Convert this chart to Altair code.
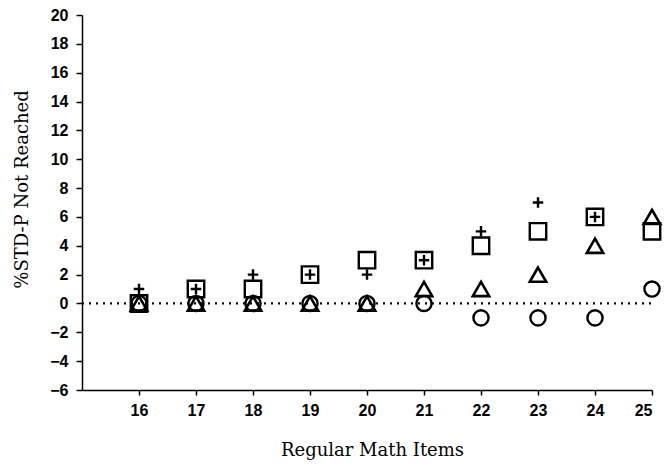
import altair as alt
import pandas as pd

items = [16, 17, 18, 19, 20, 21, 22, 23, 24, 25]
square_vals = [0, 1, 1, 2, 3, 3, 4, 5, 6, 5]
plus_vals = [1, 1, 2, 2, 2, 3, 5, 7, 6, None]
triangle_vals = [0, 0, 0, 0, 0, 1, 1, 2, 4, 6]
circle_vals = [0, 0, 0, 0, 0, 0, -1, -1, -1, 1]

y_ticks = list(range(-6, 21, 2))


def series_df(vals):
    return pd.DataFrame([{"item": x, "value": v} for x, v in zip(items, vals) if v is not None])


xscale = alt.Scale(domain=[15, 25], nice=False, zero=False)
yscale = alt.Scale(domain=[-6, 20], nice=False, zero=False)

xaxis = alt.Axis(values=items, title="Regular Math Items", grid=False,
                 labelFont="Liberation Sans", labelFontSize=16, labelFontWeight="bold",
                 labelColor="black",
                 labelPadding=7, tickSize=5, tickColor="black", tickWidth=1.5,
                 domainColor="black", domainWidth=1.5,
                 titleFont="DejaVu Serif", titleFontSize=18, titleFontWeight="normal",
                 titleColor="black", titleBaseline="middle", titleX=290, titleY=60)
yaxis = alt.Axis(values=y_ticks, title="%STD-P Not Reached", grid=False,
                 labelFont="Liberation Sans", labelFontSize=16, labelFontWeight="bold",
                 labelColor="black",
                 labelPadding=8, tickSize=6, tickColor="black", tickWidth=1.5,
                 domainColor="black", domainWidth=1.5,
                 titleFont="DejaVu Serif", titleFontSize=18, titleFontWeight="normal",
                 titleColor="black", titleBaseline="middle", titleX=-60, titleY=174)

zero_df = pd.DataFrame({"x": [15], "x2": [25], "y": [0]})
zero_line = alt.Chart(zero_df).mark_rule(
    color="black", strokeWidth=2.2, strokeDash=[2, 5]
).encode(
    x=alt.X("x:Q", scale=xscale, axis=xaxis),
    x2="x2:Q",
    y=alt.Y("y:Q", scale=yscale, axis=yaxis),
)

plus_path = "M-1,0H1M0,-1V1"


def layer(vals, shape, size, sw):
    return alt.Chart(series_df(vals)).mark_point(
        shape=shape, size=size, filled=False, strokeWidth=sw, opacity=1, color="black"
    ).encode(
        x=alt.X("item:Q", scale=xscale, axis=xaxis),
        y=alt.Y("value:Q", scale=yscale, axis=yaxis),
    )


chart = alt.layer(
    zero_line,
    layer(circle_vals, "circle", 230, 2.4),
    layer(triangle_vals, "triangle-up", 270, 2.6),
    layer(square_vals, "square", 270, 2.4),
    layer(plus_vals, plus_path, 110, 2.4),
).properties(
    width=570, height=375,
    autosize=alt.AutoSizeParams(type="none"),
    padding={"left": 82, "top": 15, "right": 14, "bottom": 76},
    background="white",
).configure_view(stroke=None)

chart.save("out.html", embed_options={"renderer": "svg", "actions": False})
